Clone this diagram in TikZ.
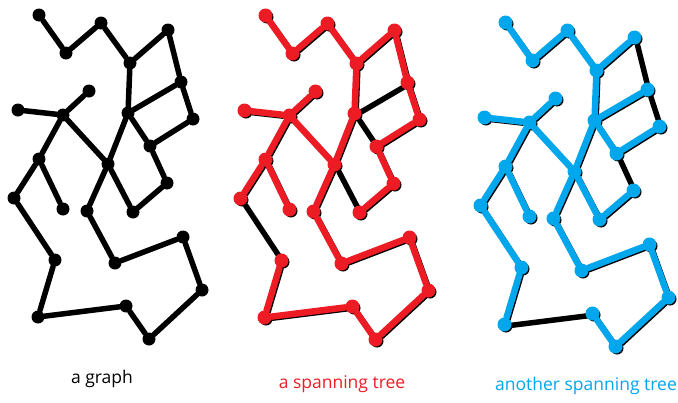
\documentclass[tikz,border=0pt]{standalone}
\usepackage{fontspec}
\setmainfont{Open Sans}
\usepackage{xcolor}
\usepackage{tikz}
\definecolor{treered}{RGB}{237,28,36}
\definecolor{treeblue}{RGB}{0,167,236}

\begin{document}
\begin{tikzpicture}[x=1pt,y=-1pt]
\tikzstyle{vertex} = [circle, fill=black, inner sep=0pt, minimum size=13pt]
\tikzstyle{edge} = [line width=5.5pt, line cap=round]
\tikzstyle{redvertex} = [vertex, fill=treered, minimum size=14pt]
\tikzstyle{bluevertex} = [vertex, fill=treeblue, minimum size=14pt]
\tikzstyle{rededge} = [edge, line width=6.5pt, treered]
\tikzstyle{blueedge} = [edge, line width=6.5pt, treeblue]
\tikzstyle{caption} = [anchor=base, font=\fontsize{17.5}{20}\selectfont]
%
\def\vertices{A/39/15, B/66/53, C/101/23, D/130/63, E/168/30, F/181/82, G/193/119,
	H/128/113, I/150/146, J/167/183, K/89/91, L/18/110, M/63/115, N/39/159, O/108/164,
	P/14/198, Q/63/209, R/87/211, S/133/212, T/55/260, U/115/263, V/183/237, W/202/290,
	X/126/306, Y/149/339, Z/38/317}
\useasboundingbox (0,0) rectangle (678,402);

	% the whole graph, three times
	\foreach \p/\dx/\dy in {g/0/0, r/228/2, b/468/9}{
		\foreach \v/\x/\y in \vertices{
			\node[vertex] (\p\v) at (\x+\dx,\y+\dy) {};
		}
		\foreach \ea/\eb in {A/B, B/C, C/D, D/E, E/F, D/H, H/F, F/G, G/I, H/I, I/J,
			K/M, L/M, M/N, M/O, H/O, N/P, N/Q, O/R, O/S, S/J, P/T, R/U, U/V, V/W,
			W/Y, Y/X, X/Z, Z/T}{
			\draw[edge] (\p\ea) -- (\p\eb);
		}
	}
	% the two trees on top
	\foreach \v/\x/\y in \vertices{
		\node[redvertex] (rt\v) at (\x+226.5,\y+0.5) {};
		\node[bluevertex] (bt\v) at (\x+466.5,\y+7.5) {};
	}
	\foreach \ea/\eb in {A/B, B/C, C/D, D/E, E/F, D/H, F/G, G/I, I/J, K/M, L/M,
		M/N, M/O, H/O, N/P, N/Q, O/R, S/J, R/U, U/V, V/W, W/Y, Y/X, X/Z, Z/T}{
		\draw[rededge] (rt\ea) -- (rt\eb);
	}
	\foreach \ea/\eb in {A/B, B/C, C/D, D/E, D/H, H/F, G/I, H/I, K/M, L/M, M/N,
		M/O, H/O, N/P, N/Q, O/R, O/S, S/J, P/T, R/U, U/V, V/W, W/Y, Y/X, Z/T}{
		\draw[blueedge] (bt\ea) -- (bt\eb);
	}

	\node[caption] (graphlabel) at (102,383) {a graph};
	\node[caption, treered] (redlabel) at (342,388) {a spanning tree};
	\node[caption, treeblue] (bluelabel) at (586,390) {another spanning tree};
\end{tikzpicture}
\end{document}
